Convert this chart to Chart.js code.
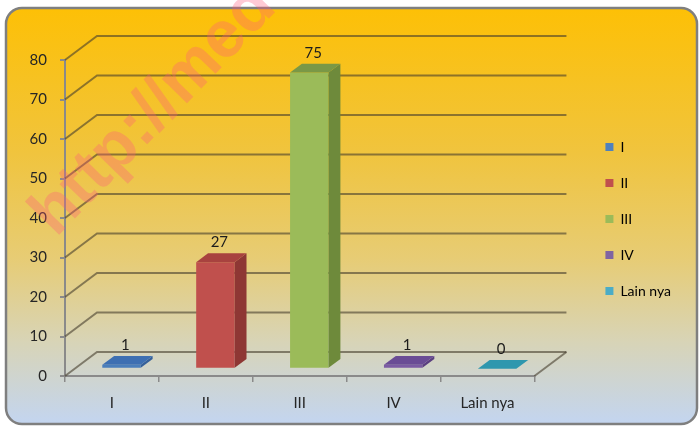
<!DOCTYPE html>
<html>
<head>
<meta charset="utf-8">
<script src="https://cdn.jsdelivr.net/npm/chart.js@4/dist/chart.umd.min.js"></script>
<style>
  html, body { margin: 0; padding: 0; background: #fff; }
  #wrap { width: 700px; height: 426px; }
</style>
</head>
<body>
<div id="wrap"><canvas id="chart" width="700" height="426"></canvas></div>
<script>
// Data
const categories = ['I', 'II', 'III', 'IV', 'Lain nya'];
const counts = [1, 27, 75, 1, 0];
const yMin = 0;
const yMax = 80;
const yStep = 10;

// Office style colours: front, side and top of each 3D bar
const frontColors = ['#4A7EBB', '#C0504D', '#9BBB59', '#7B5BA3', '#3AA3BC'];
const sideColors  = ['#35609A', '#8E3734', '#6E8A3B', '#5B3F80', '#2A7F95'];
const topColors   = ['#3D6FB2', '#A8423F', '#7A9846', '#6A4C95', '#2F97AE'];
const legendColors = ['#4F81BD', '#C0504D', '#9BBB59', '#8064A2', '#4BACC6'];

// 3D depth of the plot (back wall offset) and position of the bars inside it
const depth = { dx: 32, dy: -24 };
const barShift = 0.3;
const barDepth = 0.37;
const lineColor = 'rgba(70, 62, 45, 0.6)';

const backgroundPlugin = {
    id: 'background',
    beforeDraw(chart) {
        const ctx = chart.ctx;
        ctx.save();
        ctx.fillStyle = '#ffffff';
        ctx.fillRect(0, 0, chart.width, chart.height);
        const g = ctx.createLinearGradient(0, 8, 0, 424);
        g.addColorStop(0, '#FDC006');
        g.addColorStop(0.35, '#F0C43E');
        g.addColorStop(0.6, '#E7CC74');
        g.addColorStop(0.8, '#D8D4B6');
        g.addColorStop(1, '#C3D5F0');
        ctx.beginPath();
        ctx.roundRect(6, 8, 691, 416, 16);
        ctx.fillStyle = g;
        ctx.fill();
        ctx.lineWidth = 2.5;
        ctx.strokeStyle = '#7f7f7f';
        ctx.stroke();
        ctx.restore();
    }
};

const bars3dPlugin = {
    id: 'bars3d',
    beforeDatasetsDraw(chart) {
        const ctx = chart.ctx;
        const { left, right, bottom } = chart.chartArea;
        const yScale = chart.scales.y;
        ctx.save();
        ctx.strokeStyle = lineColor;
        ctx.lineWidth = 2;
        // side wall + back wall grid lines
        yScale.ticks.forEach(t => {
            const py = yScale.getPixelForValue(t.value);
            ctx.beginPath();
            ctx.moveTo(left, py);
            ctx.lineTo(left + depth.dx, py + depth.dy);
            ctx.lineTo(right + depth.dx, py + depth.dy);
            ctx.stroke();
        });
        // right edge of the floor
        ctx.beginPath();
        ctx.moveTo(right, bottom);
        ctx.lineTo(right + depth.dx, bottom + depth.dy);
        ctx.stroke();
        ctx.restore();

        // push the bars back into the floor
        ctx.save();
        ctx.translate(depth.dx * barShift, depth.dy * barShift);
    },
    afterDatasetsDraw(chart) {
        const ctx = chart.ctx;
        const meta = chart.getDatasetMeta(0);
        const bdx = depth.dx * barDepth;
        const bdy = depth.dy * barDepth;
        meta.data.forEach((bar, i) => {
            const { x, y, base, width } = bar.getProps(['x', 'y', 'base', 'width'], true);
            const l = x - width / 2;
            const r = x + width / 2;
            // side face
            ctx.fillStyle = sideColors[i];
            ctx.beginPath();
            ctx.moveTo(r, y);
            ctx.lineTo(r + bdx, y + bdy);
            ctx.lineTo(r + bdx, base + bdy);
            ctx.lineTo(r, base);
            ctx.closePath();
            ctx.fill();
            // top face
            ctx.fillStyle = topColors[i];
            ctx.beginPath();
            ctx.moveTo(l, y);
            ctx.lineTo(r, y);
            ctx.lineTo(r + bdx, y + bdy);
            ctx.lineTo(l + bdx, y + bdy);
            ctx.closePath();
            ctx.fill();
            // value label
            ctx.fillStyle = '#1c1c1c';
            ctx.font = '15px Lato';
            ctx.textAlign = 'center';
            ctx.textBaseline = 'middle';
            ctx.fillText(String(counts[i]), x + bdx / 2 - 2, y + bdy - 11);
        });
        ctx.restore();
    }
};

const watermarkPlugin = {
    id: 'watermark',
    afterDraw(chart) {
        const ctx = chart.ctx;
        ctx.save();
        ctx.translate(56, 238);
        ctx.rotate(-0.8);
        ctx.font = 'bold 66px "Liberation Sans"';
        ctx.fillStyle = 'rgba(255, 90, 125, 0.32)';
        ctx.textBaseline = 'alphabetic';
        ctx.fillText('http://med', 0, 0);
        ctx.restore();
    }
};

new Chart(document.getElementById('chart'), {
    type: 'bar',
    data: {
        labels: categories,
        datasets: [{
            label: 'Jumlah',
            data: counts,
            backgroundColor: frontColors,
            borderWidth: 0,
            categoryPercentage: 1,
            barPercentage: 0.41,
            xAxisID: 'x',
            yAxisID: 'y'
        }]
    },
    options: {
        responsive: false,
        animation: false,
        devicePixelRatio: 1,
        layout: { padding: { left: 5, right: 19, top: 17, bottom: 5 } },
        plugins: {
            tooltip: { enabled: false },
            legend: {
                position: 'right',
                labels: {
                    boxWidth: 8,
                    boxHeight: 8,
                    padding: 22,
                    color: '#222',
                    font: { family: 'Lato', size: 14 },
                    generateLabels: () => categories.map((c, i) => ({
                        text: c,
                        fillStyle: legendColors[i],
                        strokeStyle: legendColors[i],
                        lineWidth: 0,
                        hidden: false,
                        index: i
                    }))
                }
            }
        },
        scales: {
            x: {
                position: 'bottom',
                grid: { display: true, drawOnChartArea: false, offset: true, tickLength: 6, color: '#8a8a8a', lineWidth: 1.5 },
                border: { display: true, color: '#8a8a8a', width: 2 },
                ticks: { padding: 12, color: '#262626', font: { family: 'Lato', size: 15 } },
                afterFit: s => { s.height = 45; }
            },
            xTop: {
                type: 'category',
                position: 'top',
                grid: { display: false },
                border: { display: false },
                ticks: { display: false },
                afterFit: s => { s.height = 43; }
            },
            y: {
                position: 'left',
                min: yMin,
                max: yMax,
                ticks: { stepSize: yStep, padding: 13, color: '#262626', font: { family: 'Lato', size: 15 } },
                grid: { drawOnChartArea: false, tickLength: 5, color: '#8a8a8a', lineWidth: 2 },
                border: { display: true, color: '#8a8a8a', width: 2 },
                afterFit: s => { s.width = 60; }
            },
            yRight: {
                position: 'right',
                grid: { display: false },
                border: { display: false },
                ticks: { display: false },
                afterFit: s => { s.width = 49; }
            }
        }
    },
    plugins: [backgroundPlugin, bars3dPlugin, watermarkPlugin]
});
</script>
</body>
</html>
